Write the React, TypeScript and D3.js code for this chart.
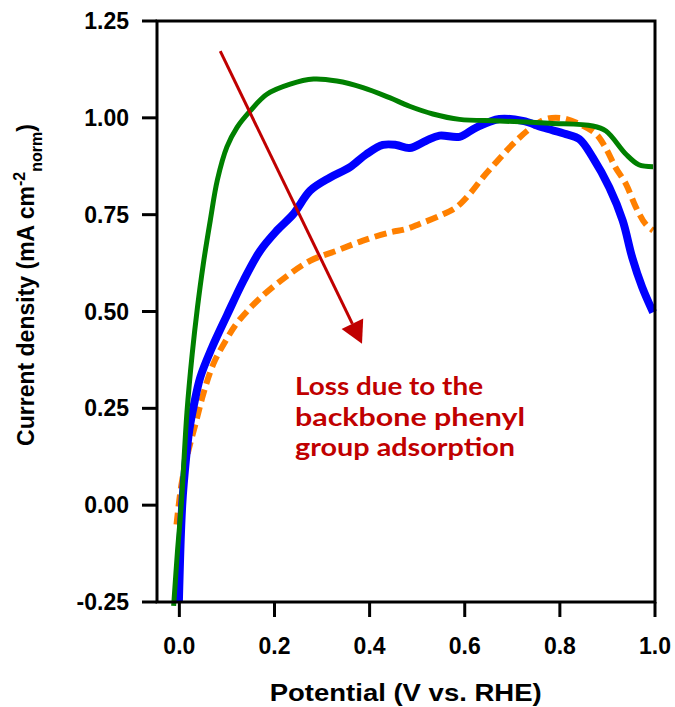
import React from "react";
import * as d3 from "d3";

// Potential (V vs. RHE) and normalized current density
const greenV = [-0.012, -0.004, 0.004, 0.016, 0.027, 0.038, 0.05, 0.065, 0.08, 0.1, 0.121, 0.149, 0.184, 0.233, 0.282, 0.331, 0.386, 0.442, 0.484, 0.533, 0.589, 0.673, 0.778, 0.869, 0.897, 0.939, 0.966, 0.996];
const greenJ = [-0.26, -0.12, 0.0, 0.24, 0.39, 0.51, 0.62, 0.735, 0.84, 0.925, 0.975, 1.018, 1.061, 1.087, 1.1, 1.095, 1.078, 1.052, 1.03, 1.01, 0.996, 0.992, 0.986, 0.979, 0.966, 0.906, 0.879, 0.874];

const blueV = [-0.001, 0.006, 0.014, 0.021, 0.03, 0.044, 0.068, 0.1, 0.135, 0.17, 0.205, 0.24, 0.275, 0.317, 0.358, 0.393, 0.428, 0.456, 0.484, 0.519, 0.547, 0.589, 0.624, 0.673, 0.722, 0.764, 0.813, 0.841, 0.869, 0.904, 0.932, 0.952, 0.973, 0.996];
const blueJ = [-0.25, 0.0, 0.12, 0.195, 0.255, 0.33, 0.405, 0.49, 0.58, 0.657, 0.709, 0.752, 0.812, 0.846, 0.872, 0.906, 0.93, 0.93, 0.922, 0.941, 0.954, 0.951, 0.975, 0.997, 0.992, 0.975, 0.958, 0.945, 0.898, 0.82, 0.735, 0.64, 0.563, 0.498];

const orangeV = [-0.006, 0.004, 0.016, 0.034, 0.051, 0.072, 0.1, 0.121, 0.142, 0.17, 0.219, 0.275, 0.331, 0.386, 0.442, 0.477, 0.505, 0.547, 0.582, 0.61, 0.638, 0.666, 0.701, 0.736, 0.771, 0.806, 0.841, 0.876, 0.896, 0.917, 0.939, 0.96, 0.98, 0.996];
const orangeJ = [-0.05, 0.05, 0.125, 0.21, 0.29, 0.366, 0.43, 0.47, 0.5, 0.535, 0.585, 0.631, 0.657, 0.683, 0.704, 0.713, 0.726, 0.747, 0.769, 0.803, 0.846, 0.885, 0.932, 0.971, 0.997, 0.999, 0.984, 0.958, 0.923, 0.872, 0.829, 0.769, 0.726, 0.709];

const xTicks = [0, 0.2, 0.4, 0.6, 0.8, 1.0];
const yTicks = [-0.25, 0, 0.25, 0.5, 0.75, 1.0, 1.25];
const annotationLines = ["Loss due to the", "backbone phenyl", "group adsorption"];
const arrowFrom = [0.086, 1.172];
const arrowTo = [0.384, 0.417];

const W = 675;
const H = 707;
const left = 157, right = 655, top = 21, bottom = 602;

export default function App() {
  const x = d3.scaleLinear().domain([-0.047, 1.0]).range([left, right]);
  const y = d3.scaleLinear().domain([-0.25, 1.25]).range([bottom, top]);
  const line = d3
    .line<[number, number]>()
    .x((d) => x(d[0]))
    .y((d) => y(d[1]))
    .curve(d3.curveCatmullRom.alpha(0.5));
  const zip = (a: number[], b: number[]) => a.map((v, i) => [v, b[i]] as [number, number]);

  const font = "'Liberation Sans', Arial, Helvetica, sans-serif";
  const red = "#c00000";

  // arrow geometry
  const x1 = x(arrowFrom[0]), y1 = y(arrowFrom[1]);
  const x2 = x(arrowTo[0]), y2 = y(arrowTo[1]);
  const dx = x2 - x1, dy = y2 - y1;
  const len = Math.hypot(dx, dy);
  const ux = dx / len, uy = dy / len;
  const headL = 22, headW = 12;
  const bx = x2 - ux * headL, by = y2 - uy * headL;
  const head = `${x2},${y2} ${bx - uy * headW},${by + ux * headW} ${bx + uy * headW},${by - ux * headW}`;

  return (
    <svg width={W} height={H} style={{ position: "absolute", left: 0, top: 0, background: "#fff" }}>
      {/* curves */}
      <path d={line(zip(orangeV, orangeJ)) || ""} fill="none" stroke="#ff8000" strokeWidth={6} strokeDasharray="12,6" />
      <path d={line(zip(blueV, blueJ)) || ""} fill="none" stroke="#0000ff" strokeWidth={8} strokeLinejoin="round" />
      <path d={line(zip(greenV, greenJ)) || ""} fill="none" stroke="#008000" strokeWidth={5} strokeLinejoin="round" />

      {/* frame */}
      <rect x={left} y={top} width={right - left} height={bottom - top} fill="none" stroke="#000" strokeWidth={3} />
      {yTicks.map((t) => (
        <g key={"y" + t}>
          <line x1={left - 15} x2={left} y1={y(t)} y2={y(t)} stroke="#000" strokeWidth={3} />
          <text x={129} y={y(t)} textAnchor="end" dominantBaseline="central" fontFamily={font} fontWeight="bold" fontSize={23}>
            {t.toFixed(2)}
          </text>
        </g>
      ))}
      {xTicks.map((t) => (
        <g key={"x" + t}>
          <line x1={x(t)} x2={x(t)} y1={bottom} y2={bottom + 15} stroke="#000" strokeWidth={3} />
          <text x={x(t)} y={654} textAnchor="middle" fontFamily={font} fontWeight="bold" fontSize={23}>
            {t.toFixed(1)}
          </text>
        </g>
      ))}

      {/* axis titles */}
      <text x={405.7} y={701} textAnchor="middle" fontFamily={font} fontWeight="bold" fontSize={23} textLength={272} lengthAdjust="spacingAndGlyphs">
        Potential (V vs. RHE)
      </text>
      <text transform="translate(33.5,285) rotate(-90)" textAnchor="middle" fontFamily={font} fontWeight="bold" fontSize={23}>
        Current density (mA cm
        <tspan dy={-9} fontSize={16}>-2</tspan>
        <tspan dy={17} fontSize={16}>norm</tspan>
        <tspan dy={-8}>)</tspan>
      </text>

      {/* annotation */}
      <line x1={x1} y1={y1} x2={bx} y2={by} stroke={red} strokeWidth={3} />
      <polygon points={head} fill={red} />
      {annotationLines.map((s, i) => (
        <text
          key={s}
          x={295}
          y={395 + i * 30.5}
          fontFamily="Lato, 'Noto Sans', sans-serif"
          fontWeight="bold"
          fontSize={25}
          fill={red}
          textLength={[188, 230, 220][i]}
          lengthAdjust="spacingAndGlyphs"
        >
          {s}
        </text>
      ))}
    </svg>
  );
}
